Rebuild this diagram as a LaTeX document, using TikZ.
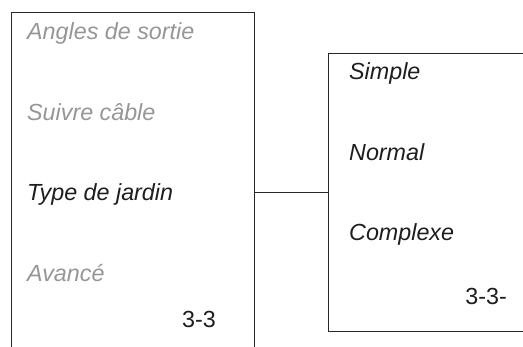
\documentclass[tikz,border=0pt]{standalone}
\usepackage{fontspec}
\setmainfont{Liberation Sans}
\definecolor{dimtext}{RGB}{150,150,150}
\definecolor{darktext}{RGB}{30,30,30}
\definecolor{framecol}{RGB}{40,40,40}
\begin{document}
\begin{tikzpicture}[x=1pt,y=-1pt,
  item/.style={anchor=base west,inner sep=0pt,font=\fontsize{23.3}{26}\selectfont\itshape},
  dimitem/.style={item,text=dimtext},
  blackitem/.style={item,text=darktext},
  pagenum/.style={anchor=base east,inner sep=0pt,font=\fontsize{23.3}{26}\selectfont,text=darktext},
  frame/.style={draw=framecol,line width=1pt}]
\useasboundingbox (0,0) rectangle (523,347);
% left panel
\coordinate (lbl) at (11,347);
\coordinate (ltl) at (11,13);
\coordinate (ltr) at (254,13);
\coordinate (lbr) at (254,347);
\draw[frame] (lbl) -- (ltl) -- (ltr) -- (lbr);
\node[dimitem] (angles) at (27,40) {Angles de sortie};
\node[dimitem] (suivre) at (27,121) {Suivre câble};
\node[blackitem] (type) at (27,201) {Type de jardin};
\node[dimitem] (avance) at (27,282) {Avancé};
\node[pagenum] (pgl) at (216,328) {3-3};
% right panel
\coordinate (rtr) at (523,54);
\coordinate (rtl) at (328,54);
\coordinate (rbl) at (328,332);
\coordinate (rbr) at (523,332);
\draw[frame] (rtr) -- (rtl) -- (rbl) -- (rbr);
\node[blackitem] (simple) at (349,80) {Simple};
\node[blackitem] (normal) at (349,161) {Normal};
\node[blackitem] (complexe) at (349,241) {Complexe};
\node[pagenum] (pgr) at (507,305) {3-3-};
% connector
\coordinate (cl) at (254,193);
\coordinate (cr) at (328,193);
\draw[frame] (cl) -- (cr);
\end{tikzpicture}
\end{document}
